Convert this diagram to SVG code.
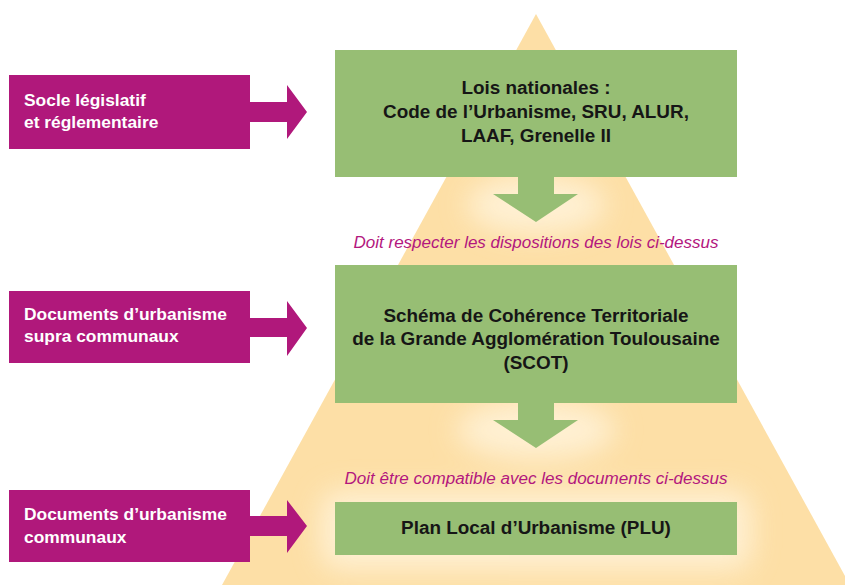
<svg xmlns="http://www.w3.org/2000/svg" width="845" height="585" viewBox="0 0 845 585">
<defs>
<style>
.lbl{font-family:"Liberation Sans",Arial,sans-serif;font-weight:bold;font-size:17.4px;fill:#ffffff}
.gt{font-family:"Liberation Sans",Arial,sans-serif;font-weight:bold;font-size:18.9px;fill:#161616;text-anchor:middle}
.it{font-family:"Liberation Sans",Arial,sans-serif;font-style:italic;font-size:16px;fill:#B3177E;text-anchor:middle}
.mag{fill:#B0187B}
.grn{fill:#97BE74}
</style>
<filter id="blur" x="-50%" y="-50%" width="200%" height="200%"><feGaussianBlur stdDeviation="14"/></filter>
<clipPath id="tri"><polygon points="536,14 222,585 850,585"/></clipPath>
</defs>
<rect width="845" height="585" fill="#ffffff"/>
<g id="pyramid">
<polygon points="536,14 222,585 850,585" fill="#FDDFA6"/>
<g clip-path="url(#tri)" filter="url(#blur)" fill="#FFF4DE" opacity="0.8">
<ellipse cx="536" cy="205" rx="70" ry="30"/>
<ellipse cx="536" cy="430" rx="80" ry="30"/>
<rect x="320" y="490" width="432" height="80" rx="20"/>
</g>
</g>
<g id="connectors">
<polygon class="mag" points="250,102 287,102 287,85 307,112 287,139 287,122 250,122"/>
<polygon class="mag" points="250,318 287,318 287,301 307,328 287,356 287,337 250,337"/>
<polygon class="mag" points="250,516 287,516 287,500 307,526 287,553 287,536 250,536"/>
<polygon class="grn" points="518,176 554,176 554,194 578,194 536,222 493,194 518,194"/>
<polygon class="grn" points="518,402 554,402 554,420 578,420 536,448 493,420 518,420"/>
</g>
<g id="socle">
<rect class="mag" x="9" y="75" width="241" height="74"/>
<text class="lbl" x="24" y="106">Socle législatif</text>
<text class="lbl" x="24" y="128">et réglementaire</text>
</g>
<g id="supra">
<rect class="mag" x="9" y="291" width="241" height="72"/>
<text class="lbl" x="24" y="320">Documents d’urbanisme</text>
<text class="lbl" x="24" y="342">supra communaux</text>
</g>
<g id="communaux">
<rect class="mag" x="9" y="490" width="241" height="72"/>
<text class="lbl" x="24" y="520">Documents d’urbanisme</text>
<text class="lbl" x="24" y="543">communaux</text>
</g>
<g id="lois">
<rect class="grn" x="335" y="50" width="402" height="127"/>
<text class="gt" x="536" y="94">Lois nationales :</text>
<text class="gt" x="536" y="118">Code de l’Urbanisme, SRU, ALUR,</text>
<text class="gt" x="536" y="142">LAAF, Grenelle II</text>
</g>
<g id="label1">
<text class="it" x="536" y="248" textLength="365" lengthAdjust="spacingAndGlyphs">Doit respecter les dispositions des lois ci-dessus</text>
</g>
<g id="scot">
<rect class="grn" x="335" y="265" width="402" height="138"/>
<text class="gt" x="536" y="322">Schéma de Cohérence Territoriale</text>
<text class="gt" x="536" y="345">de la Grande Agglomération Toulousaine</text>
<text class="gt" x="536" y="369">(SCOT)</text>
</g>
<g id="label2">
<text class="it" x="536" y="484" textLength="383" lengthAdjust="spacingAndGlyphs">Doit être compatible avec les documents ci-dessus</text>
</g>
<g id="plu">
<rect class="grn" x="335" y="502" width="402" height="53"/>
<text class="gt" x="536" y="534">Plan Local d’Urbanisme (PLU)</text>
</g>
</svg>
